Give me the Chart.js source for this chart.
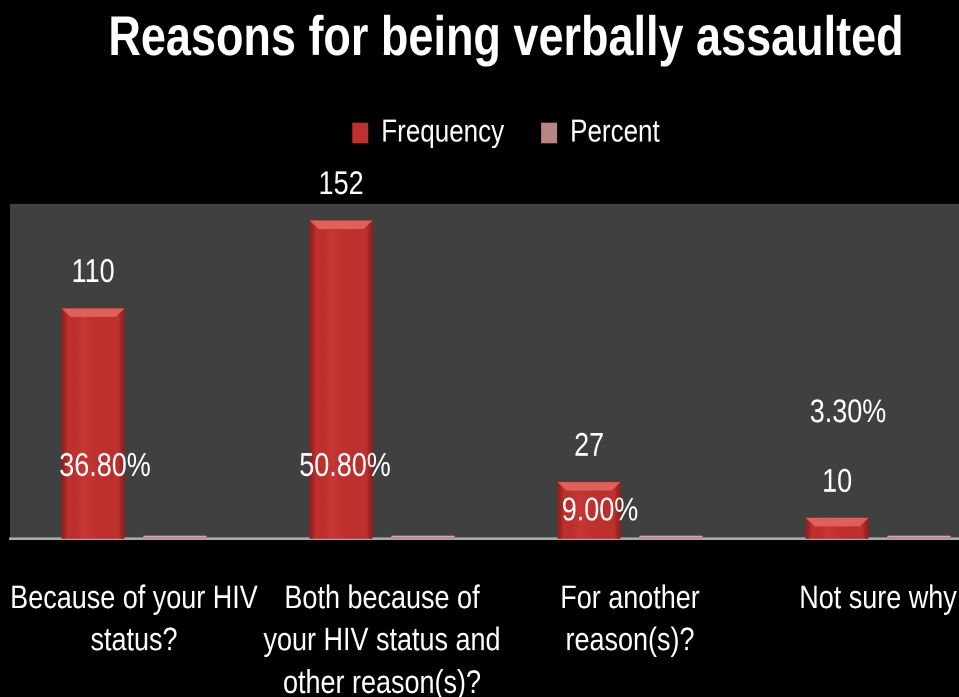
<!DOCTYPE html>
<html>
<head>
<meta charset="utf-8">
<script src="https://cdn.jsdelivr.net/npm/chart.js@4/dist/chart.umd.min.js"></script>
<style>
  html, body { margin: 0; padding: 0; background: #000; overflow: hidden; width: 959px; height: 697px; }
  /* the chart is laid out on a shorter canvas and stretched vertically,
     which gives the tall, narrow lettering of the original slide */
  #wrap { position: relative; width: 1010px; height: 578px; transform: scaleY(1.22); transform-origin: 0 0; }
</style>
</head>
<body>
<div id="wrap"><canvas id="chart"></canvas></div>
<script>
// Survey answers: why respondents were verbally assaulted
const categories = [
  ["Because of your HIV", "status?"],
  ["Both because of", "your HIV status and", "other reason(s)?"],
  ["For another", "reason(s)?"],
  ["Not sure why"]
];
const frequency = [110, 152, 27, 10];
const percentShare = [0.368, 0.508, 0.09, 0.033];   // share of respondents (fraction)

const FONT = "'Liberation Sans', Arial, sans-serif";

// Where the percent labels sit: horizontal shift from the category centre (px)
// and height on the value axis.
const percentLabelSpots = [
  { dx: -29, at: 34.5 },
  { dx: -37, at: 34.5 },
  { dx: -30, at: 13 },
  { dx: -30, at: 60 }
];

// Dark plot background
const plotBackground = {
  id: 'plotBackground',
  beforeDraw(chart) {
    const { ctx, chartArea: a } = chart;
    ctx.save();
    ctx.fillStyle = '#000';
    ctx.fillRect(0, 0, chart.width, chart.height);
    ctx.fillStyle = '#404040';
    ctx.fillRect(a.left, a.top, a.right - a.left, a.bottom - a.top);
    ctx.restore();
  }
};

// Extra room between the legend row and the plot
const legendGap = {
  id: 'legendGap',
  afterInit(chart) {
    const legend = chart.legend;
    const fit = legend.fit;
    legend.fit = function () {
      fit.call(this);
      this.height += 35;
    };
  }
};

// Bevelled look for the bars
const bevel = {
  id: 'bevel',
  afterDatasetDraw(chart, args) {
    const { ctx } = chart;
    const meta = args.meta;
    ctx.save();
    meta.data.forEach(bar => {
      const { x, y, base, width } = bar.getProps(['x', 'y', 'base', 'width'], true);
      const l = x - width / 2, r = x + width / 2;
      const h = base - y;
      if (args.index === 0) {
        const bx = Math.min(9, width / 2);
        const by = Math.min(7, h / 2);
        // side shading
        const g = ctx.createLinearGradient(l, 0, r, 0);
        g.addColorStop(0, 'rgba(90,10,10,0.45)');
        g.addColorStop(0.1, 'rgba(0,0,0,0)');
        g.addColorStop(0.35, 'rgba(255,120,110,0.10)');
        g.addColorStop(0.9, 'rgba(0,0,0,0)');
        g.addColorStop(1, 'rgba(90,10,10,0.45)');
        ctx.fillStyle = g;
        ctx.fillRect(l, y, width, h);
        // top bevel
        ctx.beginPath();
        ctx.moveTo(l, y);
        ctx.lineTo(r, y);
        ctx.lineTo(r - bx, y + by);
        ctx.lineTo(l + bx, y + by);
        ctx.closePath();
        ctx.fillStyle = '#e0605a';
        ctx.fill();
      } else {
        ctx.fillStyle = 'rgba(235,190,190,0.6)';
        ctx.fillRect(l, y, width, Math.min(1.2, h));
      }
    });
    ctx.restore();
  }
};

// Value labels
const valueLabels = {
  id: 'valueLabels',
  afterDatasetsDraw(chart) {
    const { ctx, scales } = chart;
    ctx.save();
    ctx.fillStyle = '#ffffff';
    ctx.font = '27px ' + FONT;
    ctx.textAlign = 'center';
    ctx.textBaseline = 'middle';
    chart.getDatasetMeta(0).data.forEach((bar, i) => {
      ctx.fillText(String(frequency[i]), bar.x, bar.y - 29);
    });
    percentShare.forEach((v, i) => {
      const spot = percentLabelSpots[i];
      const cx = scales.x.getPixelForValue(i) + spot.dx;
      const cy = scales.y.getPixelForValue(spot.at);
      ctx.fillText((v * 100).toFixed(2) + '%', cx, cy);
    });
    ctx.restore();
  }
};

new Chart(document.getElementById('chart'), {
  type: 'bar',
  data: {
    labels: categories,
    datasets: [
      {
        label: 'Frequency',
        data: frequency,
        backgroundColor: '#c0302e',
        borderWidth: 0,
        categoryPercentage: 0.66,
        barPercentage: 0.77
      },
      {
        label: 'Percent',
        data: percentShare,
        backgroundColor: '#b98484',
        borderWidth: 0,
        minBarLength: 2.5,
        categoryPercentage: 0.66,
        barPercentage: 0.77
      }
    ]
  },
  options: {
    responsive: true,
    maintainAspectRatio: false,
    devicePixelRatio: 2,
    animation: false,
    layout: { padding: { left: 10, right: 8, top: 0, bottom: 0 } },
    scales: {
      x: {
        grid: { display: false, drawTicks: true, tickLength: 32 },
        border: { display: true, color: '#a9a9a9', width: 2 },
        ticks: {
          color: '#ffffff',
          font: { family: FONT, size: 27, lineHeight: 1.29 },
          padding: 0,
          maxRotation: 0,
          minRotation: 0,
          autoSkip: false
        }
      },
      y: {
        display: false,
        min: 0,
        max: 160
      }
    },
    plugins: {
      title: {
        display: true,
        text: 'Reasons for being verbally assaulted',
        color: '#ffffff',
        font: { family: FONT, size: 45, weight: 'bold', lineHeight: 1.1 },
        padding: { top: 8, bottom: 1.5 }
      },
      legend: {
        display: true,
        labels: {
          color: '#ffffff',
          font: { family: FONT, size: 26 },
          boxWidth: 16,
          boxHeight: 17,
          padding: 37
        }
      },
      tooltip: { enabled: false }
    }
  },
  plugins: [plotBackground, legendGap, bevel, valueLabels]
});
</script>
</body>
</html>
